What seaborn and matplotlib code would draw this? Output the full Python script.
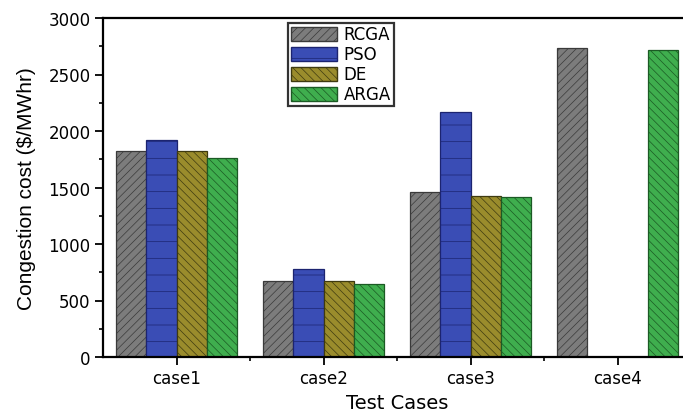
import matplotlib
matplotlib.use("Agg")
import matplotlib.pyplot as plt
import seaborn as sns
import pandas as pd
from matplotlib.ticker import MultipleLocator, FixedLocator

cases = ["case1", "case2", "case3", "case4"]
methods = ["RCGA", "PSO", "DE", "ARGA"]
rcga = [1820, 670, 1460, 2735]
pso = [1920, 780, 2170, 0]
de = [1820, 670, 1425, 0]
arga = [1760, 650, 1420, 2720]

colors = ["#7c7c7c", "#3a4db5", "#9a8c2c", "#3fae4e"]
edges = ["#3a3a3a", "#1c2470", "#3e3a10", "#1b5a24"]
hatches = ["////", "-", "\\\\\\\\", "\\\\\\\\"]

rows = []
for m, vals in zip(methods, [rcga, pso, de, arga]):
    for c, v in zip(cases, vals):
        rows.append({"case": c, "method": m, "value": v})
df = pd.DataFrame(rows)

sns.set_style("ticks")
plt.rcParams["font.family"] = ["DejaVu Sans"]
plt.rcParams["hatch.linewidth"] = 0.5
plt.rcParams["text.color"] = "black"
plt.rcParams["axes.labelcolor"] = "black"
plt.rcParams["xtick.color"] = "black"
plt.rcParams["ytick.color"] = "black"

fig = plt.figure(figsize=(6.83, 4.14), dpi=100)
ax = fig.add_axes([103 / 683, 56 / 414, 588 / 683, 339 / 414])

sns.barplot(data=df, x="case", y="value", hue="method", order=cases,
            hue_order=methods, palette=colors, width=0.82, gap=0,
            saturation=1, ax=ax, legend=True)

for cont, ec, h in zip(ax.containers, edges, hatches):
    for p in cont.patches:
        p.set_hatch(h)
        p.set_edgecolor(ec)
        p.set_linewidth(0.9)

ax.set_xlim(-0.5, 3.5)
ax.set_ylim(0, 3000)
ax.yaxis.set_major_locator(MultipleLocator(500))
ax.yaxis.set_minor_locator(MultipleLocator(250))
ax.xaxis.set_minor_locator(FixedLocator([0.5, 1.5, 2.5]))
ax.tick_params(axis="both", which="major", direction="out", length=6, width=1.3,
               labelsize=12, colors="black", pad=3)
ax.tick_params(axis="both", which="minor", direction="out", length=3, width=1.2)
for s in ["left", "bottom", "top", "right"]:
    ax.spines[s].set_linewidth(1.6)
    ax.spines[s].set_color("black")

ax.set_xlabel("Test Cases", fontsize=14, labelpad=4, color="black")
ax.set_ylabel("Congestion cost ($/MWhr)", fontsize=15, color="black",
              family=["Liberation Sans Narrow", "Liberation Sans", "DejaVu Sans"],
              labelpad=9)

handles, labels = ax.get_legend_handles_labels()
for hd, ec, h in zip(handles, edges, hatches):
    hd.set_hatch(h)
    hd.set_edgecolor(ec)
leg = ax.legend(handles, labels, loc="upper left",
                bbox_to_anchor=((288 - 103) / 588, 1 - (24 - 19) / 339),
                frameon=True, fancybox=False, edgecolor="black",
                handlelength=2.8, handleheight=0.9, labelspacing=0.12,
                borderpad=0.15, handletextpad=0.4, borderaxespad=0,
                labelcolor="black",
                prop={"family": "DejaVu Sans", "size": 12})
leg.get_frame().set_linewidth(1.6)

fig.savefig("out.png", dpi=100)
